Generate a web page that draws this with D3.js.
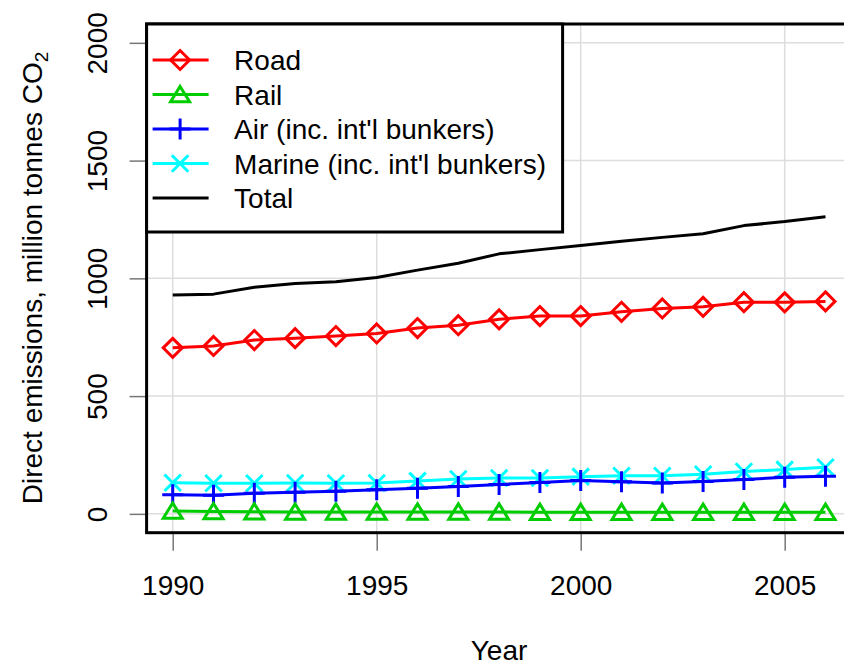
<!DOCTYPE html>
<html>
<head>
<meta charset="utf-8">
<script src="https://cdn.jsdelivr.net/npm/d3@7"></script>
<style>
  body { margin: 0; background: #fff; }
  text { font-family: "Liberation Sans", Arial, Helvetica, sans-serif; fill: #000; }
</style>
</head>
<body>
<svg id="chart"></svg>
<script>
// data
const years = d3.range(1990, 2007);
const road   = [705, 713, 738, 746, 755, 766, 789, 801, 826, 840, 840, 858, 872, 879, 899, 898, 902];
const rail   = [12, 10, 9, 8, 8, 8, 8, 8, 8, 7, 7, 7, 7, 7, 7, 7, 7];
const air    = [81, 79, 88, 92, 96, 102, 109, 116, 125, 133, 142, 136, 131, 137, 146, 155, 160];
const marine = [132, 130, 130, 131, 130, 131, 140, 148, 152, 152, 158, 162, 162, 168, 180, 188, 198];
const total  = [929, 933, 962, 978, 986, 1004, 1035, 1064, 1104, 1122, 1139, 1158, 1174, 1189, 1224, 1241, 1262];

const xTicks = [1990, 1995, 2000, 2005];
const yTicks = [0, 500, 1000, 1500, 2000];

const seriesNames = ["Road", "Rail", "Air (inc. int'l bunkers)", "Marine (inc. int'l bunkers)", "Total"];
const seriesColors = ["#ff0000", "#00cd00", "#0000ff", "#00ffff", "#000000"];
const seriesShapes = ["diamond", "triangle", "plus", "cross", null];
const seriesValues = [road, rail, air, marine, total];

const config = {
  containerWidth: 844,
  containerHeight: 666,
  margin: {top: 24, left: 146.6},
  width: 705,
  height: 508.7,
  fontSize: 28
};

// R-like point shapes as d3 symbol types (size used as radius)
const shapes = {
  diamond: {draw(c, r) { c.moveTo(0, -r); c.lineTo(r, 0); c.lineTo(0, r); c.lineTo(-r, 0); c.closePath(); }},
  triangle: {draw(c, r) { const h = r * 0.85; c.moveTo(0, -h); c.lineTo(r, h * 0.9); c.lineTo(-r, h * 0.9); c.closePath(); }},
  plus: {draw(c, r) { c.moveTo(-r, 0); c.lineTo(r, 0); c.moveTo(0, -r); c.lineTo(0, r); }},
  cross: {draw(c, r) { const a = r * 0.75; c.moveTo(-a, -a); c.lineTo(a, a); c.moveTo(-a, a); c.lineTo(a, -a); }}
};
const markerSize = {diamond: 9.5, triangle: 9.5, plus: 10.5, cross: 11};

const svg = d3.select('#chart')
    .attr('width', config.containerWidth)
    .attr('height', config.containerHeight);

const chart = svg.append('g')
    .attr('transform', `translate(${config.margin.left},${config.margin.top})`);

const xScale = d3.scaleLinear()
    .domain([1989.36, 2006.64])
    .range([0, config.width]);

const yScale = d3.scaleLinear()
    .domain([-80, 2080])
    .range([config.height, 0]);

// grid
chart.append('g').selectAll('line.vgrid')
    .data(xTicks)
  .join('line')
    .attr('x1', d => xScale(d)).attr('x2', d => xScale(d))
    .attr('y1', 0).attr('y2', config.height)
    .attr('stroke', '#dddddd').attr('stroke-width', 1.5);

chart.append('g').selectAll('line.hgrid')
    .data(yTicks)
  .join('line')
    .attr('y1', d => yScale(d)).attr('y2', d => yScale(d))
    .attr('x1', 0).attr('x2', config.width)
    .attr('stroke', '#dddddd').attr('stroke-width', 1.5);

// axes
const xAxisG = chart.append('g')
    .attr('transform', `translate(0,${config.height})`)
    .call(d3.axisBottom(xScale).tickValues(xTicks).tickFormat(d3.format('d')).tickSize(18).tickPadding(0));
xAxisG.select('.domain').remove();
xAxisG.selectAll('.tick line').attr('stroke', '#777').attr('stroke-width', 1.5);
xAxisG.selectAll('.tick text')
    .attr('y', 62).attr('dy', null)
    .style('font-size', config.fontSize + 'px')
    .attr('fill', '#000');

const yAxisG = chart.append('g')
    .call(d3.axisLeft(yScale).tickValues(yTicks).tickFormat(d3.format('d')).tickSize(17));
yAxisG.select('.domain').remove();
yAxisG.selectAll('.tick line').attr('stroke', '#777').attr('stroke-width', 1.5);
yAxisG.selectAll('.tick text')
    .attr('x', null).attr('dy', null)
    .attr('transform', 'translate(-40,0) rotate(-90)')
    .attr('text-anchor', 'middle')
    .style('font-size', config.fontSize + 'px')
    .attr('fill', '#000');

// series, drawn so that blue sits over cyan and green on top
const drawOrder = [4, 0, 3, 2, 1];
drawOrder.forEach(i => {
  const vals = seriesValues[i];
  const pts = years.map((yr, j) => ({year: yr, value: vals[j]}));
  const line = d3.line().x(d => xScale(d.year)).y(d => yScale(d.value));
  chart.append('path')
      .datum(pts)
      .attr('d', line)
      .attr('fill', 'none')
      .attr('stroke', seriesColors[i])
      .attr('stroke-width', 3)
      .attr('stroke-linejoin', 'round');
  const shape = seriesShapes[i];
  if (shape) {
    chart.append('g').selectAll('path')
        .data(pts)
      .join('path')
        .attr('transform', d => `translate(${xScale(d.year)},${yScale(d.value)})`)
        .attr('d', d3.symbol(shapes[shape], markerSize[shape]))
        .attr('fill', 'none')
        .attr('stroke', seriesColors[i])
        .attr('stroke-width', 3);
  }
});

// plot box
chart.append('rect')
    .attr('x', 0).attr('y', 0)
    .attr('width', config.width).attr('height', config.height)
    .attr('fill', 'none').attr('stroke', '#000').attr('stroke-width', 3);

// legend
const legend = chart.append('g');
legend.append('rect')
    .attr('x', 0).attr('y', 0)
    .attr('width', 416).attr('height', 208)
    .attr('fill', '#fff').attr('stroke', '#000').attr('stroke-width', 3);

const legendRows = legend.selectAll('g.row')
    .data(seriesNames)
  .join('g')
    .attr('class', 'row')
    .attr('transform', (d, i) => `translate(0,${36 + i * 34.5})`);

legendRows.append('line')
    .attr('x1', 6).attr('x2', 62)
    .attr('stroke', (d, i) => seriesColors[i])
    .attr('stroke-width', 3);

legendRows.filter((d, i) => seriesShapes[i] !== null)
  .append('path')
    .attr('transform', 'translate(33.5,0)')
    .attr('d', d => {
      const s = seriesShapes[seriesNames.indexOf(d)];
      return d3.symbol(shapes[s], markerSize[s])();
    })
    .attr('fill', 'none')
    .attr('stroke', d => seriesColors[seriesNames.indexOf(d)])
    .attr('stroke-width', 3);

legendRows.append('text')
    .attr('x', 87.5).attr('y', 10)
    .style('font-size', config.fontSize + 'px')
    .text(d => d);

// axis titles
svg.append('text')
    .attr('x', 499).attr('y', 660)
    .attr('text-anchor', 'middle')
    .style('font-size', config.fontSize + 'px')
    .text('Year');

const yTitle = svg.append('text')
    .attr('transform', 'translate(42,278) rotate(-90)')
    .attr('text-anchor', 'middle')
    .style('font-size', config.fontSize + 'px');
yTitle.append('tspan').text('Direct emissions, million tonnes CO');
yTitle.append('tspan').attr('dy', 6).style('font-size', '19px').text('2');
</script>
</body>
</html>
